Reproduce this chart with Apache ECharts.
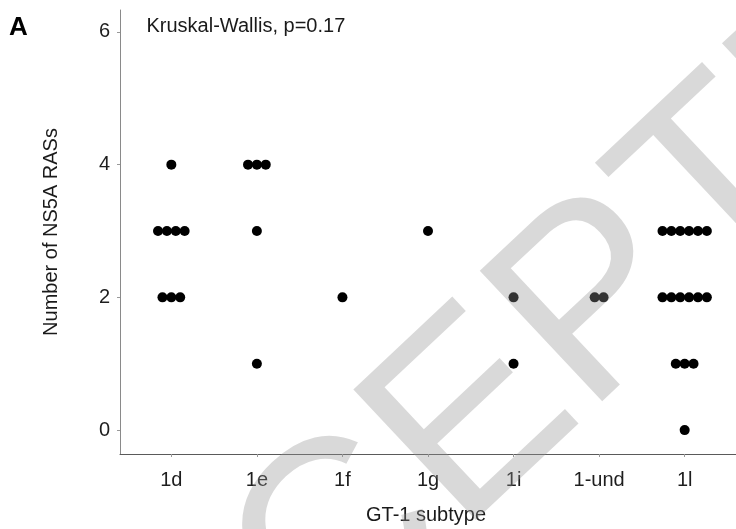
<!DOCTYPE html>
<html>
<head>
<meta charset="utf-8">
<script src="https://cdn.jsdelivr.net/npm/echarts@6/dist/echarts.min.js"></script>
<style>
  html, body { margin: 0; padding: 0; background: #fff; }
  #chart { width: 736px; height: 529px; }
</style>
</head>
<body>
<div id="chart"></div>
<script>
// ---- data ----
const categories = ['1d', '1e', '1f', '1g', '1i', '1-und', '1l'];
const v1d   = [4, 3, 3, 3, 3, 2, 2, 2];
const v1e   = [4, 4, 4, 3, 1];
const v1f   = [2];
const v1g   = [3];
const v1i   = [2, 1];
const v1und = [2, 2];
const v1l   = [3, 3, 3, 3, 3, 3, 2, 2, 2, 2, 2, 2, 1, 1, 1, 0];
const yTicks = [0, 2, 4, 6];
const annotation = 'Kruskal-Wallis, p=0.17';

const groups = [v1d, v1e, v1f, v1g, v1i, v1und, v1l];

// ---- dot-plot stacking (centered stacks) ----
const STACK_STEP = 0.1037; // x-units between stacked dots
const points = [];
groups.forEach((vals, ci) => {
  const counts = {};
  vals.forEach(v => { counts[v] = (counts[v] || 0) + 1; });
  Object.keys(counts).forEach(k => {
    const n = counts[k];
    for (let j = 0; j < n; j++) {
      points.push([ci + 1 + (j - (n - 1) / 2) * STACK_STEP, Number(k)]);
    }
  });
});

const FONT = '"Liberation Sans", Arial, Helvetica, sans-serif';
const chart = echarts.init(document.getElementById('chart'), null, { renderer: 'canvas' });

chart.setOption({
  animation: false,
  backgroundColor: '#ffffff',
  grid: { left: 120, top: 10, width: 625, height: 444, containLabel: false },
  xAxis: {
    type: 'value',
    min: 0.4,
    max: 7.6,
    splitLine: { show: false },
    axisLine: { show: true, onZero: false, lineStyle: { color: '#5a5a5a', width: 1 } },
    axisTick: { show: true, length: 3, customValues: categories.map((c, i) => i + 1), lineStyle: { color: '#999' } },
    axisLabel: {
      customValues: categories.map((c, i) => i + 1),
      formatter: v => categories[Math.round(v) - 1] || '',
      fontFamily: FONT, fontSize: 20, color: '#1e1e1e', margin: 16
    }
  },
  yAxis: {
    type: 'value',
    min: -0.36,
    max: 6.33,
    splitLine: { show: false },
    axisLine: { show: true, onZero: false, lineStyle: { color: '#8a8a8a', width: 1 } },
    axisTick: { show: true, length: 3, customValues: yTicks, lineStyle: { color: '#999' } },
    axisLabel: {
      customValues: yTicks,
      fontFamily: FONT, fontSize: 20, color: '#1e1e1e', margin: 10
    }
  },
  series: [{
    type: 'scatter',
    data: points,
    symbol: 'circle',
    symbolSize: 10,
    itemStyle: { color: '#000000', opacity: 1 },
    emphasis: { disabled: true },
    z: 3
  }],
  graphic: [
    { type: 'text', left: 9, top: 15, z: 50,
      style: { text: 'A', font: 'bold 26px ' + FONT, fill: '#000' } },
    { type: 'text', x: 146.5, y: 26.5, z: 50,
      style: { text: annotation, font: '20px ' + FONT, fill: '#1a1a1a',
               align: 'left', verticalAlign: 'middle', textAlign: 'left', textVerticalAlign: 'middle' } },
    { type: 'text', x: 51.5, y: 232, rotation: Math.PI / 2, z: 50,
      style: { text: 'Number of NS5A RASs', font: '20px ' + FONT, fill: '#1a1a1a',
               align: 'center', verticalAlign: 'middle', textAlign: 'center', textVerticalAlign: 'middle' } },
    { type: 'text', x: 426, y: 515, z: 50,
      style: { text: 'GT-1 subtype', font: '20px ' + FONT, fill: '#1a1a1a',
               align: 'center', verticalAlign: 'middle', textAlign: 'center', textVerticalAlign: 'middle' } },
    { type: 'text', x: 11, y: 858, rotation: 43.2 * Math.PI / 180, z: 200, silent: true,
      style: { text: 'ACCEPTED MANUSCRIPT', font: '260px ' + FONT, fill: 'rgba(146,146,146,0.35)',
               align: 'left', verticalAlign: 'middle', textAlign: 'left', textVerticalAlign: 'middle' } }
  ]
});
</script>
</body>
</html>
